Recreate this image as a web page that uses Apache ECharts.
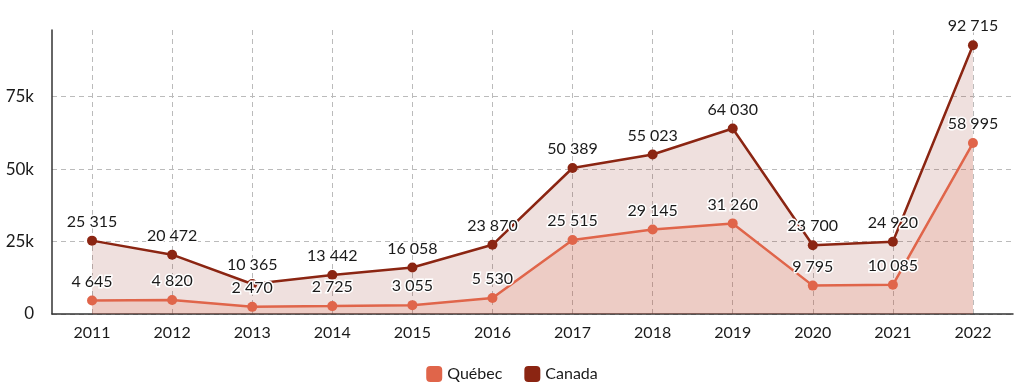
<!DOCTYPE html>
<html><head><meta charset="utf-8">
<script src="https://cdn.jsdelivr.net/npm/echarts@6/dist/echarts.min.js"></script>
<style>html,body{margin:0;padding:0;background:#fff}#c{width:1024px;height:390px}</style>
</head><body><div id="c"></div>
<script>
const years = ['2011','2012','2013','2014','2015','2016','2017','2018','2019','2020','2021','2022'];
const quebec = [4645, 4820, 2470, 2725, 3055, 5530, 25515, 29145, 31260, 9795, 10085, 58995];
const canada = [25315, 20472, 10365, 13442, 16058, 23870, 50389, 55023, 64030, 23700, 24920, 92715];
const yTicks = [0, 25000, 50000, 75000];

const fmt = v => String(v).replace(/\B(?=(\d{3})+(?!\d))/g, ' ');
const FONT = 'Lato, "DejaVu Sans", sans-serif';
const TXT = '#1a1a1a';
const cQ = '#e0654a', cC = '#8b2512';
const chart = echarts.init(document.getElementById('c'), null, {renderer:'canvas'});
const labelCfg = {
  show: true, position: 'top', distance: 6,
  formatter: p => fmt(p.value),
  fontFamily: FONT, fontSize: 16, color: TXT,
  textBorderColor: '#fff', textBorderWidth: 3
};
chart.setOption({
  animation: false,
  textStyle: {fontFamily: FONT},
  grid: {left: 52, right: 11, top: 30, bottom: 76},
  legend: {
    data: ['Québec', 'Canada'], bottom: 3, left: 'center',
    icon: 'roundRect', itemWidth: 16, itemHeight: 16, itemGap: 22,
    textStyle: {fontFamily: FONT, fontSize: 16, color: TXT}
  },
  xAxis: {
    type: 'category', data: years, boundaryGap: true,
    axisLine: {lineStyle: {color: '#333', width: 1.5}},
    axisTick: {show: false},
    axisLabel: {fontFamily: FONT, fontSize: 16, color: TXT, margin: 11},
    splitLine: {show: true, alignWithLabel: true, lineStyle: {type: [5, 4], color: '#bbb'}}
  },
  yAxis: {
    type: 'value', min: 0, max: 98000, interval: 25000,
    axisLine: {show: true, lineStyle: {color: '#333', width: 1.5}},
    axisTick: {show: false},
    axisLabel: {
      fontFamily: FONT, fontSize: 17, color: TXT, margin: 18, showMaxLabel: false,
      formatter: v => yTicks.includes(v) ? (v === 0 ? '0' : (v/1000) + 'k') : ''
    },
    splitLine: {lineStyle: {type: [5, 4], color: ['#bbb','#bbb','#bbb','#bbb','rgba(0,0,0,0)']}}
  },
  series: [
    {
      name: 'Canada', type: 'line', data: canada, z: 2,
      symbol: 'circle', symbolSize: 10,
      itemStyle: {color: cC}, lineStyle: {color: cC, width: 2.5},
      areaStyle: {color: 'rgba(139,37,18,0.2)'},
      label: labelCfg
    },
    {
      name: 'Québec', type: 'line', data: quebec, z: 3,
      symbol: 'circle', symbolSize: 10,
      itemStyle: {color: cQ}, lineStyle: {color: cQ, width: 2.5},
      areaStyle: {color: 'rgba(224,101,74,0.24)'},
      label: labelCfg
    }
  ]
});
</script></body></html>
